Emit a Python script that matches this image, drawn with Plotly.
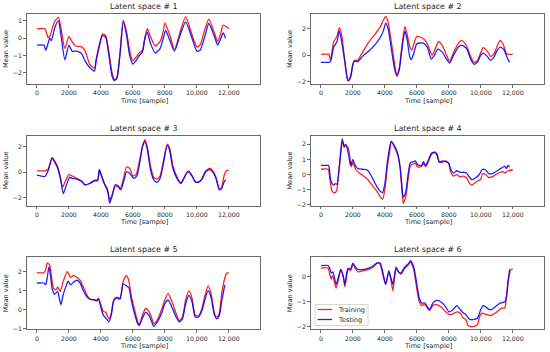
import plotly.graph_objects as go

# ---------------- data ----------------
t1_train = [0, 500, 700, 800, 1100, 1350, 1500, 1750, 2000, 2200, 2400, 2800, 3000, 3300, 3600, 3700, 3900, 4100, 4300, 4500, 4700, 4850, 5000, 5200, 5400, 5600, 5800, 6000, 6200, 6400, 6600, 6750, 6900, 7100, 7400, 7700, 7900, 8000, 8300, 8600, 9000, 9300, 9700, 10000, 10200, 10500, 10750, 11100, 11300, 11500, 11650, 12000]
y1_train = [0.54, 0.54, 0.05, 0.1, 0.95, 1.2, 0.6, -0.6, 0.1, -0.2, -0.45, -0.5, -0.7, -1.5, -1.75, -1.3, -0.5, 0.25, 0.15, -0.8, -2.0, -2.4, -2.3, -0.8, 1.05, 0.4, -0.7, -1.3, -1.1, -0.85, -0.7, 0.0, 0.55, 0.1, -0.45, -0.2, 0.4, 0.88, 0.2, -0.65, 0.5, 1.25, 0.2, -0.5, -0.4, 0.5, 1.1, 0.3, -0.2, 0.3, 0.75, 0.55]
t1_test = [0, 450, 550, 700, 800, 900, 1150, 1350, 1500, 1750, 2000, 2200, 2500, 2800, 3000, 3300, 3600, 3700, 3900, 4100, 4300, 4500, 4700, 4850, 5000, 5200, 5400, 5600, 5800, 6000, 6200, 6400, 6600, 6750, 6900, 7100, 7400, 7700, 7900, 8050, 8300, 8600, 9000, 9300, 9700, 10000, 10200, 10500, 10750, 11100, 11300, 11500, 11650, 11800]
y1_test = [-0.4, -0.4, -0.7, -0.3, 0.0, -0.15, 0.7, 1.0, 0.2, -1.25, -0.4, -0.75, -0.75, -0.9, -1.3, -1.7, -1.9, -1.3, -0.4, 0.15, 0.05, -1.0, -2.2, -2.45, -2.3, -0.9, 0.95, 0.2, -1.0, -1.5, -1.3, -1.0, -0.8, 0.0, 0.35, -0.3, -0.85, -0.6, 0.0, 0.45, -0.1, -0.75, 0.3, 0.95, 0.0, -0.75, -0.7, 0.1, 0.85, 0.1, -0.4, 0.0, 0.3, 0.0]

t2_train = [0, 500, 600, 800, 1000, 1150, 1300, 1450, 1600, 1700, 1850, 2000, 2100, 2300, 2500, 2800, 3000, 3400, 3700, 3900, 4050, 4200, 4400, 4600, 4750, 4900, 5050, 5250, 5400, 5600, 5700, 5800, 6000, 6300, 6600, 6800, 6950, 7150, 7350, 7600, 7850, 8050, 8300, 8600, 8800, 9100, 9400, 9600, 9800, 10000, 10150, 10400, 10600, 10800, 11000, 11200, 11400, 11600, 12000]
y2_train = [0.05, 0.05, -0.4, 1.0, 1.4, 2.05, 1.5, 0.0, -1.5, -1.95, -1.6, -0.7, -0.4, -0.4, 0.0, 0.6, 1.0, 1.6, 2.1, 2.6, 2.9, 2.5, 1.0, -0.6, -1.5, -1.0, 0.5, 2.15, 1.5, 0.5, 0.4, 0.8, 1.4, 1.3, 1.0, 0.4, 0.0, 0.5, 1.0, 0.7, 0.0, -0.45, 0.2, 0.9, 1.1, 0.7, -0.2, -0.55, -0.4, 0.2, 0.55, 0.3, -0.1, 0.05, 0.6, 1.1, 0.8, 0.1, 0.05]
t2_test = [0, 500, 600, 800, 1000, 1150, 1300, 1500, 1700, 1850, 2000, 2100, 2300, 2600, 3000, 3400, 3700, 3900, 4050, 4200, 4400, 4600, 4750, 4900, 5050, 5250, 5400, 5550, 5650, 5800, 6000, 6400, 6650, 6900, 7100, 7300, 7600, 7850, 8050, 8300, 8600, 8800, 9100, 9400, 9600, 9800, 10000, 10150, 10400, 10600, 10800, 11000, 11200, 11450, 11650, 11800]
y2_test = [-0.55, -0.55, -0.5, 0.6, 1.0, 1.8, 1.0, -0.5, -1.95, -1.7, -0.7, -0.45, -0.5, -0.1, 0.3, 0.8, 1.3, 1.8, 2.4, 2.0, 0.5, -1.0, -1.6, -1.1, 0.3, 1.8, 1.1, -0.1, -0.35, 0.1, 0.85, 0.9, 0.6, -0.3, 0.0, 0.45, 0.2, -0.3, -0.6, 0.0, 0.6, 0.75, 0.5, -0.4, -0.7, -0.5, 0.0, 0.15, -0.1, -0.4, -0.2, 0.3, 0.6, 0.4, -0.2, -0.55]

t3_train = [0, 500, 700, 800, 950, 1100, 1300, 1450, 1600, 1750, 2000, 2200, 2500, 2800, 3000, 3300, 3600, 3800, 3900, 4000, 4200, 4400, 4550, 4700, 4900, 5100, 5200, 5400, 5600, 5800, 6000, 6200, 6400, 6600, 6750, 6900, 7100, 7300, 7500, 7700, 7900, 8150, 8300, 8500, 8800, 9000, 9200, 9400, 9500, 9700, 9900, 10100, 10300, 10500, 10800, 11000, 11200, 11400, 11550, 11700, 11850, 12000]
y3_train = [0.1, 0.1, 0.2, 0.6, 1.15, 0.9, 0.4, -0.3, -1.2, -0.8, -0.2, -0.3, -0.5, -0.7, -1.0, -0.9, -0.7, -0.7, 0.1, -0.2, -0.9, -1.3, -2.2, -1.8, -1.1, -1.2, -1.35, -0.6, 0.4, 0.3, -0.3, -0.2, 0.8, 2.0, 2.55, 2.0, 0.5, -0.4, -0.55, -0.3, 0.8, 2.2, 1.9, 0.5, -0.5, -0.85, -0.5, 0.0, 0.1, -0.3, -0.8, -0.8, -0.6, 0.0, 0.3, 0.1, -0.4, -1.3, -1.2, -0.3, 0.1, 0.15]
t3_test = [0, 500, 700, 950, 1150, 1300, 1500, 1650, 1850, 2050, 2200, 2500, 2800, 3000, 3300, 3600, 3800, 3900, 4050, 4250, 4450, 4550, 4700, 4900, 5100, 5250, 5450, 5600, 5800, 6050, 6250, 6400, 6600, 6750, 6900, 7100, 7300, 7500, 7700, 7900, 8150, 8300, 8500, 8800, 9000, 9200, 9400, 9500, 9700, 9950, 10150, 10350, 10550, 10800, 11000, 11200, 11400, 11550, 11700, 11800]
y3_test = [-0.25, -0.35, 0.1, 1.05, 0.7, 0.3, -0.7, -1.7, -1.0, -0.4, -0.5, -0.55, -0.75, -1.0, -0.9, -0.65, -0.6, 0.2, -0.3, -1.0, -1.6, -2.45, -1.9, -1.0, -1.1, -1.4, -0.6, 0.0, -0.1, -0.5, -0.3, 0.5, 2.0, 2.4, 1.8, 0.2, -0.6, -0.8, -0.5, 0.6, 2.1, 1.7, 0.3, -0.6, -0.9, -0.45, 0.0, 0.0, -0.3, -0.8, -0.75, -0.5, 0.0, 0.2, 0.0, -0.5, -1.4, -1.3, -0.8, -0.6]

t4_train = [0, 450, 500, 600, 700, 800, 900, 1000, 1100, 1200, 1350, 1450, 1550, 1700, 1800, 1900, 2000, 2100, 2200, 2400, 2600, 2900, 3200, 3500, 3700, 3850, 4000, 4150, 4300, 4400, 4600, 4800, 4950, 5050, 5150, 5300, 5450, 5600, 5800, 5900, 6050, 6300, 6400, 6550, 6700, 6900, 7100, 7250, 7400, 7600, 7800, 8000, 8100, 8300, 8500, 8700, 8900, 9100, 9300, 9450, 9700, 10000, 10100, 10300, 10500, 10800, 11100, 11400, 11500, 11700, 12000]
y4_train = [0.35, 0.35, 0.2, -0.6, -1.1, -1.2, -1.2, -1.0, 0.0, 1.0, 2.2, 1.8, 1.9, 1.8, 1.2, 0.5, 0.8, 0.55, 0.3, 0.1, -0.05, -0.3, -0.7, -1.1, -1.45, -1.65, -1.0, 0.5, 1.5, 2.2, 1.8, 1.3, 0.5, -0.8, -1.9, -1.5, -0.3, 0.6, 0.7, 0.75, 0.5, 0.55, 0.75, 0.5, 0.8, 1.3, 1.5, 1.4, 0.85, 0.8, 0.9, 0.7, 0.2, -0.1, 0.0, -0.15, -0.1, -0.2, -0.6, -0.7, -0.5, -0.3, 0.05, 0.0, -0.2, -0.1, 0.1, 0.2, 0.1, 0.25, 0.3]
t4_test = [0, 450, 500, 600, 700, 800, 900, 1000, 1150, 1330, 1450, 1550, 1650, 1750, 1850, 2000, 2100, 2300, 2600, 2900, 3100, 3300, 3500, 3700, 3850, 4000, 4150, 4300, 4400, 4600, 4800, 4950, 5050, 5150, 5300, 5450, 5600, 5800, 5900, 6050, 6300, 6400, 6550, 6700, 6900, 7100, 7250, 7400, 7600, 7800, 8000, 8100, 8300, 8500, 8700, 8900, 9100, 9300, 9450, 9700, 9900, 10100, 10300, 10500, 10800, 11100, 11400, 11500, 11600, 11700, 11800]
y4_test = [0.6, 0.6, 0.55, -0.3, -0.6, -0.7, -0.6, -0.65, 0.5, 2.35, 1.9, 2.0, 1.7, 1.2, 0.6, 1.0, 0.7, 0.4, 0.35, 0.3, 0.0, -0.4, -0.8, -1.1, -1.2, -0.6, 0.8, 1.8, 2.2, 1.9, 1.4, 0.5, -0.6, -1.5, -1.2, 0.0, 0.8, 0.85, 0.9, 0.65, 0.6, 0.85, 0.6, 0.9, 1.4, 1.45, 1.3, 0.8, 0.9, 0.85, 0.75, 0.4, 0.1, 0.25, 0.15, 0.15, 0.1, -0.2, -0.35, -0.2, 0.0, 0.35, 0.3, 0.05, 0.1, 0.3, 0.5, 0.55, 0.4, 0.6, 0.5]

t5_train = [0, 450, 550, 650, 800, 900, 1050, 1200, 1300, 1450, 1650, 1900, 2100, 2300, 2500, 2700, 2900, 3100, 3300, 3600, 3750, 3850, 4000, 4150, 4300, 4500, 4650, 4800, 5000, 5200, 5400, 5600, 5750, 5900, 6100, 6300, 6400, 6600, 6800, 7000, 7200, 7300, 7500, 7800, 8000, 8200, 8400, 8700, 8900, 9100, 9300, 9500, 9700, 9900, 10100, 10300, 10500, 10700, 10900, 11100, 11250, 11400, 11550, 11700, 11850, 12000]
y5_train = [1.95, 1.95, 2.1, 2.45, 2.35, 1.8, 1.1, 1.05, 1.2, 0.95, 1.5, 2.0, 1.7, 1.8, 1.7, 1.55, 1.2, 0.8, 0.55, 0.5, 0.5, 0.6, 0.25, -0.1, -0.15, -0.5, -0.2, 0.5, 0.65, 0.6, 1.5, 1.8, 1.5, 0.7, 0.0, -0.65, -0.8, -0.3, 0.05, -0.1, -0.5, -0.75, -0.6, 0.0, 0.5, 0.85, 0.5, -0.2, -0.6, -0.4, 0.5, 1.0, 0.6, -0.3, -0.35, 0.0, 0.7, 1.25, 0.8, -0.2, -0.4, -0.2, 0.8, 1.5, 1.9, 1.95]
t5_test = [0, 450, 550, 650, 750, 850, 950, 1100, 1300, 1400, 1500, 1650, 1850, 1950, 2100, 2300, 2500, 2700, 2900, 3100, 3300, 3600, 3750, 3850, 4000, 4150, 4300, 4500, 4650, 4800, 5000, 5200, 5400, 5600, 5750, 5900, 6100, 6300, 6400, 6600, 6800, 7000, 7200, 7300, 7500, 7800, 8000, 8200, 8400, 8700, 8900, 9100, 9300, 9500, 9700, 9900, 10100, 10300, 10500, 10700, 10900, 11100, 11250, 11400, 11550, 11750]
y5_test = [1.4, 1.4, 1.3, 1.7, 2.25, 1.8, 1.1, 0.8, 0.95, 0.6, 0.25, 0.8, 1.3, 1.5, 1.3, 1.45, 1.55, 1.4, 1.0, 0.7, 0.55, 0.5, 0.45, 0.55, 0.1, -0.3, -0.45, -0.65, -0.3, 0.45, 0.6, 0.55, 1.35, 1.25, 1.15, 0.5, -0.2, -0.75, -0.85, -0.45, -0.15, -0.3, -0.7, -0.9, -0.7, -0.2, 0.3, 0.5, 0.2, -0.4, -0.65, -0.5, 0.3, 0.75, 0.4, -0.4, -0.4, -0.1, 0.5, 1.0, 0.6, -0.3, -0.5, -0.35, 0.4, 1.3]

t6_train = [0, 450, 550, 650, 700, 800, 950, 1100, 1250, 1400, 1500, 1600, 1700, 1850, 2000, 2150, 2300, 2700, 3000, 3300, 3500, 3700, 3900, 4050, 4250, 4400, 4500, 4700, 4850, 5000, 5200, 5500, 5600, 5800, 6000, 6150, 6300, 6500, 6700, 6800, 7000, 7200, 7500, 7800, 8000, 8200, 8500, 8700, 8900, 9050, 9200, 9450, 9700, 9800, 9950, 10100, 10300, 10600, 10900, 11100, 11300, 11500, 11600, 11750, 11900, 12000]
y6_train = [0.35, 0.35, 0.1, -0.1, 0.05, -0.1, -0.45, -0.1, 0.3, 0.0, -0.4, 0.0, 0.3, 0.25, 0.5, 0.35, 0.2, 0.25, 0.3, 0.4, 0.55, 0.5, 0.0, -0.3, 0.2, -0.2, -0.55, 0.3, 0.2, 0.1, 0.3, 0.5, 0.6, 0.3, -0.5, -1.0, -1.15, -1.1, -1.3, -1.35, -1.15, -1.1, -1.2, -1.4, -1.5, -1.5, -1.4, -1.45, -1.65, -1.7, -1.95, -2.0, -1.95, -1.9, -1.55, -1.45, -1.5, -1.55, -1.45, -1.35, -1.25, -1.25, -0.8, 0.0, 0.3, 0.3]
t6_test = [0, 450, 550, 650, 750, 950, 1100, 1250, 1400, 1500, 1600, 1700, 1850, 2000, 2150, 2300, 2700, 3000, 3300, 3500, 3700, 3900, 4050, 4250, 4400, 4500, 4700, 4850, 5000, 5200, 5500, 5600, 5800, 6000, 6150, 6300, 6500, 6700, 6800, 7000, 7200, 7500, 7800, 8000, 8200, 8500, 8700, 8900, 9050, 9300, 9600, 9800, 10000, 10150, 10300, 10500, 10700, 10900, 11200, 11500, 11600, 11700, 11800]
y6_test = [0.45, 0.45, 0.35, 0.15, 0.2, -0.3, 0.0, 0.3, 0.0, -0.3, 0.1, 0.35, 0.3, 0.55, 0.4, 0.3, 0.3, 0.35, 0.45, 0.55, 0.55, 0.1, -0.3, 0.25, -0.1, -0.3, 0.4, 0.2, 0.15, 0.35, 0.55, 0.65, 0.4, -0.3, -0.85, -1.05, -1.05, -1.25, -1.3, -1.05, -0.95, -1.0, -1.2, -1.4, -1.35, -1.15, -1.3, -1.45, -1.5, -1.7, -1.7, -1.65, -1.3, -1.15, -1.2, -1.3, -1.3, -1.2, -1.05, -1.0, -0.8, -0.2, 0.3]

panel_titles = ["Latent space # 1", "Latent space # 2", "Latent space # 3",
                "Latent space # 4", "Latent space # 5", "Latent space # 6"]
series_names = ["Training", "Testing"]
x_tickvals = [0, 2000, 4000, 6000, 8000, 10000, 12000]
x_ticktext = ["0", "2000", "4000", "6000", "8000", "10,000", "12,000"]
y_tickvals = [[-2, -1, 0, 1], [-2, 0, 2], [-2, 0, 2], [-2, -1, 0, 1, 2], [-1, 0, 1, 2], [-2, -1, 0]]
x_label = "Time [sample]"
y_label = "Mean value"

train_t = [t1_train, t2_train, t3_train, t4_train, t5_train, t6_train]
train_y = [y1_train, y2_train, y3_train, y4_train, y5_train, y6_train]
test_t = [t1_test, t2_test, t3_test, t4_test, t5_test, t6_test]
test_y = [y1_test, y2_test, y3_test, y4_test, y5_test, y6_test]

# ---------------- layout geometry (pixels) ----------------
W, H = 550, 352
col_px = [(27, 260), (311, 544)]
row_px = [(14, 84), (135.7, 205.5), (257.3, 329.3)]
y_ranges = [[-2.65, 1.4], [-2.18, 3.09], [-2.63, 2.86], [-2.05, 2.57], [-1.05, 2.76], [-2.1, 0.78]]
x_range = [-620, 13950]

FONT = "DejaVu Sans"
TXT = "#262626"
AX = "#6a6a6a"
RED = "rgba(255,0,0,0.88)"
BLUE = "rgba(0,0,255,0.88)"
COLORS = [RED, BLUE]


def px(xp, yp):
    return xp / W, 1 - yp / H


fig = go.Figure()
annotations = []
shapes = []
layout = {}
for i in range(6):
    r, c = divmod(i, 2)
    x0, x1 = col_px[c]
    top, bot = row_px[r]
    n = "" if i == 0 else str(i + 1)
    xa, ya = "x" + n, "y" + n
    fig.add_trace(go.Scatter(x=train_t[i], y=train_y[i], mode="lines", name=series_names[0],
                             line=dict(color=RED, width=1.3, shape="spline", smoothing=0.6),
                             xaxis=xa, yaxis=ya, showlegend=False))
    fig.add_trace(go.Scatter(x=test_t[i], y=test_y[i], mode="lines", name=series_names[1],
                             line=dict(color=BLUE, width=1.3, shape="spline", smoothing=0.6),
                             xaxis=xa, yaxis=ya, showlegend=False))
    common = dict(showline=True, mirror=True, linecolor=AX, linewidth=0.8, showgrid=False,
                  zeroline=False, ticks="outside", ticklen=3, tickwidth=0.8, tickcolor=AX,
                  tickfont=dict(family=FONT, size=6.2, color=TXT))
    layout["xaxis" + n] = dict(domain=[x0 / W, x1 / W], range=x_range, anchor=ya,
                               tickvals=x_tickvals, ticktext=x_ticktext, **common)
    layout["yaxis" + n] = dict(domain=[1 - bot / H, 1 - top / H], range=y_ranges[i], anchor=xa,
                               tickvals=y_tickvals[i], **common)
    cx = (x0 + x1) / 2
    ax_, ay_ = px(cx, top - 7.5)
    annotations.append(dict(text=panel_titles[i], x=ax_, y=ay_, xref="paper", yref="paper",
                            showarrow=False, xanchor="center", yanchor="middle",
                            font=dict(family=FONT, size=7.9, color=TXT)))
    ax_, ay_ = px(cx, bot + 16.7)
    annotations.append(dict(text=x_label, x=ax_, y=ay_, xref="paper", yref="paper",
                            showarrow=False, xanchor="center", yanchor="middle",
                            font=dict(family=FONT, size=6.6, color=TXT)))
    ax_, ay_ = px(x0 - 21, (top + bot) / 2)
    annotations.append(dict(text=y_label, x=ax_, y=ay_, xref="paper", yref="paper",
                            showarrow=False, xanchor="center", yanchor="middle", textangle=-90,
                            font=dict(family=FONT, size=6.6, color=TXT)))

# legend (matplotlib-style compact box inside panel 6)
lx0, lx1, ly0, ly1 = 315, 368, 304.5, 325.5
bx0, by0 = px(lx0, ly1)
bx1, by1 = px(lx1, ly0)
shapes.append(dict(type="rect", xref="paper", yref="paper", x0=bx0, x1=bx1, y0=by0, y1=by1,
                   line=dict(color="#cccccc", width=0.8), fillcolor="rgba(255,255,255,0.85)", layer="above"))
for k, (name, yy) in enumerate(zip(series_names, [309.5, 319.5])):
    sx0, sy = px(317.5, yy)
    sx1, _ = px(332, yy)
    shapes.append(dict(type="line", xref="paper", yref="paper", x0=sx0, x1=sx1, y0=sy, y1=sy,
                       line=dict(color=COLORS[k], width=1.3), layer="above"))
    tx, _ = px(336, yy)
    annotations.append(dict(text=name, x=tx, y=sy, xref="paper", yref="paper", showarrow=False,
                            xanchor="left", yanchor="middle",
                            font=dict(family=FONT, size=6.6, color=TXT)))

fig.update_layout(
    width=W, height=H, margin=dict(l=0, r=0, t=0, b=0, autoexpand=False),
    paper_bgcolor="white", plot_bgcolor="white", showlegend=False,
    annotations=annotations, shapes=shapes,
    **layout,
)
fig.write_html("out.html", config={"displayModeBar": False},
               post_script="document.body.style.margin='0';document.body.style.padding='0';")
